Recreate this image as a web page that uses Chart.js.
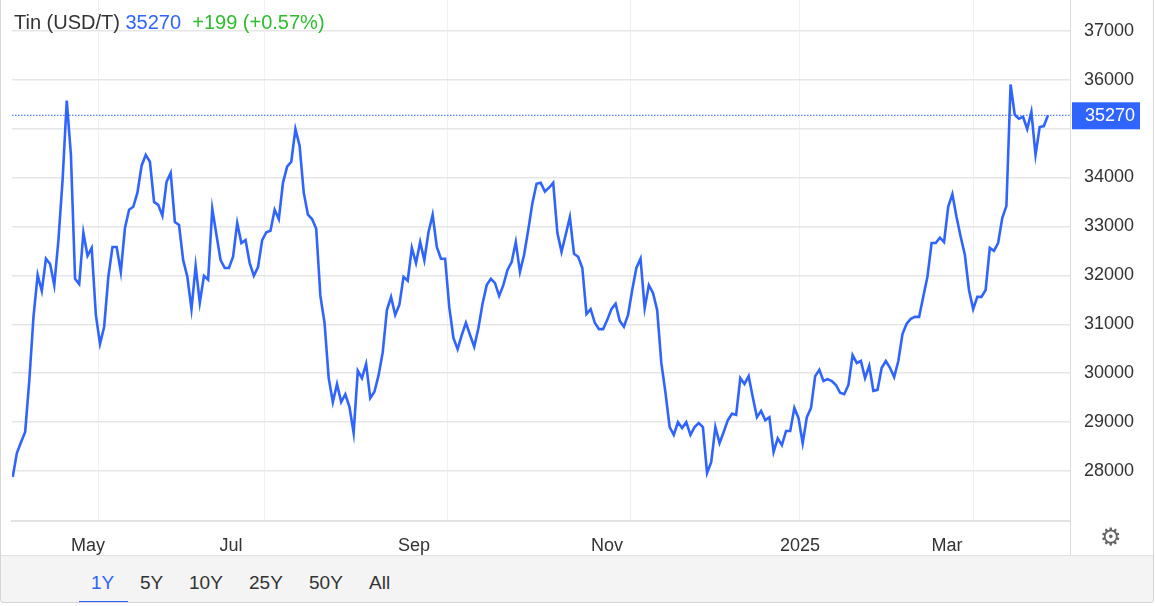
<!DOCTYPE html>
<html><head><meta charset="utf-8">
<script src="https://cdn.jsdelivr.net/npm/chart.js@4"></script>
<style>
body{margin:0;width:1156px;height:606px;overflow:hidden;font-family:"Liberation Sans",Arial,sans-serif;background:#fff}
#frame{position:absolute;left:0;top:0;width:1154px;height:603px;border:1px solid #d6d6d6;border-top:none;border-radius:0 0 4px 4px;box-sizing:border-box}
#wrap{position:absolute;left:0;top:-25px;width:1156px;height:580px}
#title{position:absolute;left:14px;top:11px;font-size:20px;color:#333;white-space:pre}
#band{position:absolute;left:1px;top:555px;width:1152px;height:47px;background:#f4f4f4;border-top:1px solid #e0e0e0}
.b{position:absolute;top:16px;font-size:19px;color:#333}
#gear{position:absolute;left:1100px;top:523px;font-size:24px;color:#666;font-family:"DejaVu Sans"}
</style></head><body>
<div id="wrap"><canvas id="c"></canvas></div>
<div id="title"></div>
<div id="band">
<span class="b" style="left:90px;color:#2f64ff">1Y</span>
<div style="position:absolute;left:78px;top:45px;width:49px;height:2px;background:#2f64ff"></div>
<span class="b" style="left:139px">5Y</span>
<span class="b" style="left:188px">10Y</span>
<span class="b" style="left:248px">25Y</span>
<span class="b" style="left:308px">50Y</span>
<span class="b" style="left:368px">All</span>
</div>
<div id="gear">⚙</div>
<div id="frame"></div>
<script>
const prices=[27880,28370,28590,28800,29860,31150,32010,31680,32340,32230,31800,32720,33950,35570,34460,31930,31820,32870,32400,32560,31190,30600,30950,31970,32580,32580,32070,32970,33340,33400,33690,34240,34460,34320,33500,33440,33220,33910,34090,33090,33030,32310,31970,31310,32190,31440,31990,31910,33360,32830,32310,32150,32150,32380,33070,32660,32720,32250,31990,32170,32720,32880,32910,33340,33150,33890,34220,34320,34990,34650,33690,33240,33150,32950,31580,31030,29900,29410,29780,29410,29570,29310,28780,30050,29900,30190,29490,29620,29960,30430,31290,31560,31190,31400,
31970,31890,32560,32250,32680,32310,32880,33240,32580,32340,32340,31350,30720,30490,30780,31030,30780,30540,30920,31420,31800,31930,31840,31580,31800,32110,32270,32680,32070,32420,32930,33480,33870,33890,33710,33790,33890,32870,32480,32830,33190,32440,32380,32150,31210,31310,31030,30900,30900,31090,31310,31420,31070,30950,31190,31700,32150,32340,31330,31800,31640,31290,30210,29600,28900,28740,29000,28880,29000,28740,28900,28980,28900,27960,28180,28900,28570,
28800,29040,29170,29150,29900,29780,29940,29510,29100,29230,29040,29100,28390,28670,28530,28820,28820,29290,29080,28570,29100,29290,29940,30070,29840,29880,29840,29760,29600,29570,29760,30370,30210,30250,29900,30150,29640,29660,30110,30250,30110,29920,30250,30800,31010,31110,31150,31150,31560,31970,32660,32660,32770,32680,33400,33660,33190,32790,32420,31700,31310,31560,31560,31700,32560,32500,32660,33170,33420,35900,35280,35200,35240,34990,35340,34460,35030,35050,35270];
const monthLabels=['May','Jul','Sep','Nov','2025','Mar'];
const yTicks=[28000,29000,30000,31000,32000,33000,34000,35000,36000,37000];
const seriesName='Tin (USD/T)', lastPrice=35270, change='+199 (+0.57%)';
document.getElementById('title').innerHTML=seriesName+' <span style="color:#2f64ff">'+lastPrice+'</span>  <span style="color:#2ebd2e">'+change+'</span>';
const N=prices.length, step=(1048-12.7)/(N-1);
const px2i=p=>(p-12.7)/step;
const labelIdx=[88,231,414,607,800,947].map(px2i);
const gridIdx=[98,264,447,630,799,974].map(px2i);
const xmin=px2i(12), xmax=px2i(1070);
const blue='#2f64ff';
const overlay={id:'ov',afterDraw(ch){
 const c=ch.ctx,y=ch.scales.y,a=ch.chartArea,py=y.getPixelForValue(lastPrice);
 c.save();
 c.strokeStyle=blue;c.lineWidth=1;c.setLineDash([1.5,1.5]);
 c.beginPath();c.moveTo(a.left,py);c.lineTo(a.right,py);c.stroke();c.setLineDash([]);
 c.fillStyle=blue;c.fillRect(a.right+2,py-13,68,27);
 c.fillStyle='#fff';c.font='18px "Liberation Sans"';c.textBaseline='middle';c.fillText(String(lastPrice),1085,py+1);
 c.strokeStyle='#dcdcdc';c.beginPath();c.moveTo(a.right+0.5,0);c.lineTo(a.right+0.5,580);c.stroke();
 c.restore();}};
new Chart(document.getElementById('c'),{type:'line',
 data:{datasets:[{data:prices.map((v,i)=>({x:i,y:v})),borderColor:blue,borderWidth:2.6,pointRadius:0,tension:0,xAxisID:'x'}]},
 options:{responsive:true,maintainAspectRatio:false,animation:false,
  layout:{padding:{left:12,top:0,right:0,bottom:0}},
  plugins:{legend:{display:false},tooltip:{enabled:false}},
  scales:{
   x:{type:'linear',min:xmin,max:xmax,afterBuildTicks:s=>{s.ticks=labelIdx.map(v=>({value:v}))},
      afterFit:s=>{s.height=34},
      grid:{display:false},border:{color:'#e3e3e3',width:2},
      ticks:{autoSkip:false,maxRotation:0,padding:6,color:'#333',font:{size:18,family:'Liberation Sans'},callback:(v,i)=>monthLabels[i]}},
   x2:{type:'linear',min:xmin,max:xmax,display:true,afterBuildTicks:s=>{s.ticks=gridIdx.map(v=>({value:v}))},
      afterFit:s=>{s.height=0},border:{display:false},
      grid:{color:'#eef2f6',lineWidth:1,drawTicks:false},ticks:{display:false}},
   y:{position:'right',min:26980,max:37630,afterBuildTicks:s=>{s.ticks=yTicks.map(v=>({value:v}))},
      afterFit:s=>{s.width=86},border:{display:false},
      grid:{color:'#e6e6e6',lineWidth:1.5,drawTicks:false},
      ticks:{padding:14,color:'#333',font:{size:18,family:'Liberation Sans'},callback:v=>Math.abs(v-lastPrice)<600?'':String(v)}}
  }},plugins:[overlay]});
</script></body></html>
